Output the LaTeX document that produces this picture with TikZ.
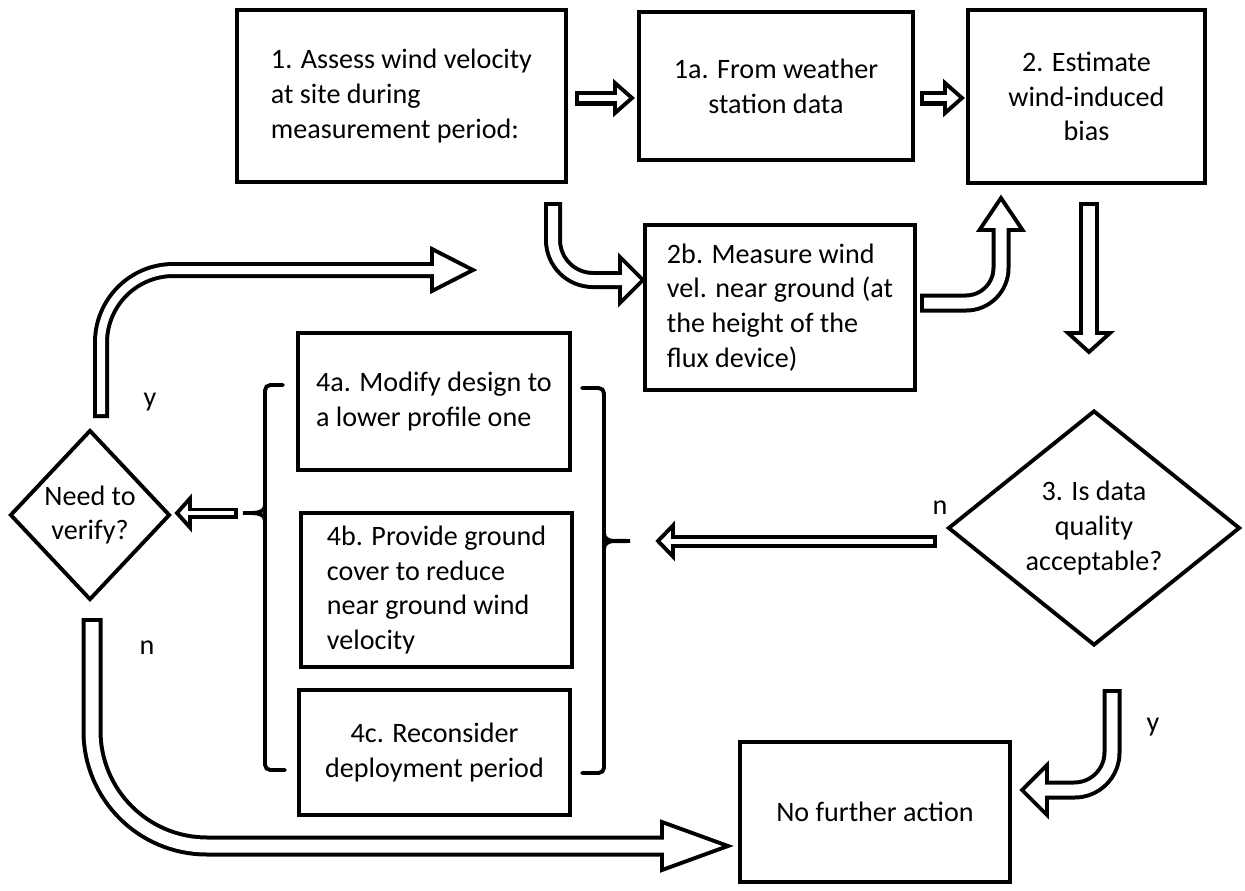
\documentclass[tikz,border=0pt]{standalone}
\usepackage{fontspec}
\setmainfont{Carlito}
\usetikzlibrary{shapes.geometric}

\tikzset{
  box/.style={draw, line width=2.4pt, inner sep=3pt, font=\fontsize{16}{19.8}\selectfont},
  decision/.style={draw, diamond, line width=2.2pt, inner sep=0pt, align=center, font=\fontsize{16}{19.8}\selectfont},
  lbl/.style={font=\fontsize{16}{19.8}\selectfont},
  brace/.style={line width=2.2pt, line cap=round},
  shaft/.style={line width=#1*0.02cm},
  hollow/.style={white, line width=#1*0.02cm, shorten <=0.08cm, shorten >=-3pt},
  pics/ahead/.style n args={2}{code={
    \draw[line width=2.2pt, fill=white, line join=miter] (0,#1/2) -- (#2,0) -- (0,-#1/2) -- cycle;}},
}

% outer width, inner width, path, head point, rotation, {head width}{head length}
\newcommand{\blockarrow}[6]{%
  \draw[shaft=#1] #3;
  \pic[rotate=#5] at #4 {ahead=#6};
  \draw[hollow=#2] #3;
}

\begin{document}
\begin{tikzpicture}[x=0.02cm, y=-0.02cm]
\useasboundingbox (0,0) rectangle (1245,890);

% boxes
\node[box, minimum width=6.58cm, minimum height=3.44cm, align=left] (b1) at (401.5,96)
  {1. Assess wind velocity\\at site during\\measurement period:};
\node[box, minimum width=5.48cm, minimum height=2.96cm, align=center] (b1a) at (776,86)
  {1a. From weather\\station data};
\node[box, minimum width=4.74cm, minimum height=3.46cm, align=center] (b2) at (1086.5,96.5)
  {2. Estimate\\wind-induced\\bias};
\node[box, minimum width=5.4cm, minimum height=3.3cm, align=left] (b2b) at (780,307.5)
  {2b. Measure wind\\vel. near ground (at\\the height of the\\flux device)};
\node[box, minimum width=5.44cm, minimum height=2.74cm, align=left] (b4a) at (434,401.5)
  {4a. Modify design to\\a lower profile one};
\node[box, minimum width=5.42cm, minimum height=3.08cm, align=left] (b4b) at (436.5,590)
  {4b. Provide ground\\cover to reduce\\near ground wind\\velocity};
\node[box, minimum width=5.42cm, minimum height=2.5cm, align=center] (b4c) at (434.5,752.5)
  {4c. Reconsider\\deployment period};
\node[box, minimum width=5.4cm, minimum height=2.8cm] (none) at (875,812) {No further action};

% decisions
\node[decision, minimum width=5.84cm, minimum height=4.7cm] (quality) at (1094,528)
  {3. Is data\\quality\\acceptable?};
\node[decision, minimum width=3.2cm, minimum height=3.4cm] (verify) at (90,515)
  {Need to\\verify?};

% labels
\node[lbl] (ly1) at (150,402) {y};
\node[lbl] (ln1) at (147,648) {n};
\node[lbl] (ln3) at (940,508) {n};
\node[lbl] (ly3) at (1153,727) {y};

% braces round 4a-4c
\draw[brace, rounded corners=3pt] (283,385) -- (265,385) -- (265,770) -- (285,770);
\draw[brace] (265,505) to[out=-90,in=0] (243,513) to[out=0,in=90] (265,521);
\draw[brace, rounded corners=3pt] (582,388) -- (604,388) -- (604,773) -- (582,773);
\draw[brace] (604,533) to[out=-90,in=180] (630,541) to[out=180,in=90] (604,549);

% arrow end points
\coordinate (a1s) at (575,98);   \coordinate (a1e) at (615,98);
\coordinate (a2s) at (920,98);   \coordinate (a2e) at (945,98);
\coordinate (a3s) at (553,202);  \coordinate (a3e) at (620,280);
\coordinate (a4s) at (920,303);  \coordinate (a4e) at (1001,230);
\coordinate (a5s) at (1089,202); \coordinate (a5e) at (1089,333);
\coordinate (a6s) at (937,541);  \coordinate (a6e) at (673,541);
\coordinate (a7s) at (238,513);  \coordinate (a7e) at (190,513);
\coordinate (a8s) at (101,418);  \coordinate (a8e) at (432,270);
\coordinate (a9s) at (1112,689); \coordinate (a9e) at (1047,790);
\coordinate (a10s) at (92,618);  \coordinate (a10e) at (662,846);

% block arrows
\blockarrow{15}{6}{(a1s) -- (a1e)}{(a1e)}{0}{{30}{17}}
\blockarrow{15}{6}{(a2s) -- (a2e)}{(a2e)}{0}{{30}{17}}
\blockarrow{18}{10}{(a3s) [rounded corners=0.8cm] |- (a3e)}{(a3e)}{0}{{46}{23}}
\blockarrow{19}{11}{(a4s) [rounded corners=0.7cm] -| (a4e)}{(a4e)}{90}{{43}{32}}
\blockarrow{20}{12}{(a5s) -- (a5e)}{(a5e)}{-90}{{42}{19}}
\blockarrow{13}{5}{(a6s) -- (a6e)}{(a6e)}{180}{{31}{15}}
\blockarrow{11}{4}{(a7s) -- (a7e)}{(a7e)}{180}{{29}{13}}
\blockarrow{16}{8}{(a8s) [rounded corners=1.45cm] |- (a8e)}{(a8e)}{0}{{42}{41}}
\blockarrow{19}{11}{(a9s) [rounded corners=0.75cm] |- (a9e)}{(a9e)}{180}{{50}{25}}
\blockarrow{21}{13}{(a10s) [rounded corners=2.3cm] |- (a10e)}{(a10e)}{0}{{48}{66}}

\end{tikzpicture}
\end{document}
